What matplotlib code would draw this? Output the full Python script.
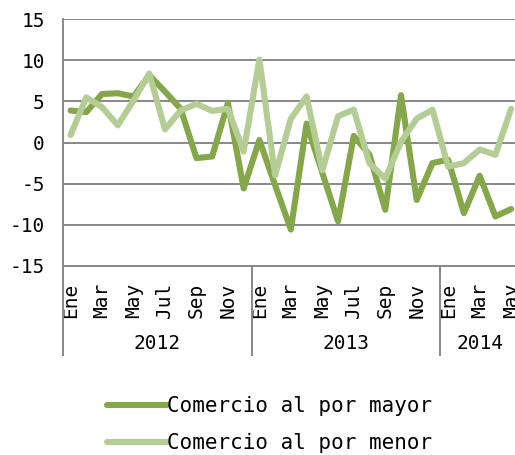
import matplotlib.pyplot as plt
import matplotlib.transforms as mtransforms

plt.rcParams['font.family'] = ['DejaVu Sans Mono']
plt.rcParams['font.size'] = 14

# monthly data, Ene 2012 .. May 2014
months = ['Ene', 'Feb', 'Mar', 'Abr', 'May', 'Jun', 'Jul', 'Ago', 'Sep', 'Oct', 'Nov', 'Dic']
years = ['2012', '2013', '2014']
year_months = [12, 12, 5]

mayor = [3.9, 3.7, 5.9, 6.0, 5.6, 8.2, 6.2, 4.1, -1.9, -1.7, 4.8, -5.6,
         0.3, -5.2, -10.6, 2.3, -3.7, -9.6, 0.8, -1.5, -8.2, 5.75, -7.0, -2.5,
         -2.1, -8.6, -4.05, -9.0, -8.1]
menor = [0.9, 5.5, 4.3, 2.1, 5.1, 8.4, 1.6, 3.9, 4.7, 3.85, 4.1, -1.1,
         10.1, -4.0, 2.9, 5.6, -3.4, 3.2, 4.0, -2.55, -4.4, 0.1, 2.9, 4.0,
         -2.95, -2.5, -0.85, -1.5, 4.1]

labels = []
for n in year_months:
    labels += months[:n]
x = list(range(len(labels)))

DARK = '#84A849'
LIGHT = '#B3CD94'
GRID = '#888888'

fig = plt.figure(figsize=(5.15, 4.55), dpi=100)
ax = fig.add_axes([62.7 / 515, 1 - 265.7 / 455, (519 - 62.7) / 515, (265.7 - 19.3) / 455])

ax.plot(x, mayor, color=DARK, lw=4.4, solid_capstyle='round', solid_joinstyle='round',
        label='Comercio al por mayor', zorder=3)
ax.plot(x, menor, color=LIGHT, lw=4.4, solid_capstyle='round', solid_joinstyle='round',
        label='Comercio al por menor', zorder=3)

ax.set_xlim(-0.5, len(x) - 0.5)
ax.set_ylim(-15, 15)
ax.set_yticks(range(-15, 16, 5))
ax.set_yticklabels([str(v) for v in range(-15, 16, 5)])
ax.yaxis.grid(True, color=GRID, lw=1.4)
ax.set_axisbelow(True)

for s in ['top', 'right']:
    ax.spines[s].set_visible(False)
ax.spines['left'].set_color(GRID)
ax.spines['left'].set_linewidth(1.4)
ax.spines['bottom'].set_color(GRID)
ax.spines['bottom'].set_linewidth(1.4)
ax.tick_params(axis='y', length=0, pad=13, colors='black')

ax.set_xticks(x[::2])
ax.set_xticklabels(labels[::2], rotation=90)
ax.tick_params(axis='x', length=0, pad=12)

# year groups below the month labels
trans = mtransforms.blended_transform_factory(ax.transData, ax.transAxes)
start = 0
bounds = [-0.5]
for yr, n in zip(years, year_months):
    ax.text(start + (n - 1) / 2, -0.315, yr, transform=trans, ha='center', va='center')
    start += n
    bounds.append(start - 0.5)
for b in bounds[:-1]:
    ax.plot([b, b], [0, -0.362], transform=trans, color=GRID, lw=1.4, clip_on=False)

fig.legend(loc='center left', bbox_to_anchor=(107 / 515, 1 - 424.5 / 455),
           frameon=False, handlelength=2.9, handletextpad=0.0, borderpad=0,
           borderaxespad=0, labelspacing=0.8, fontsize=15)

fig.savefig('out.png', dpi=100)
